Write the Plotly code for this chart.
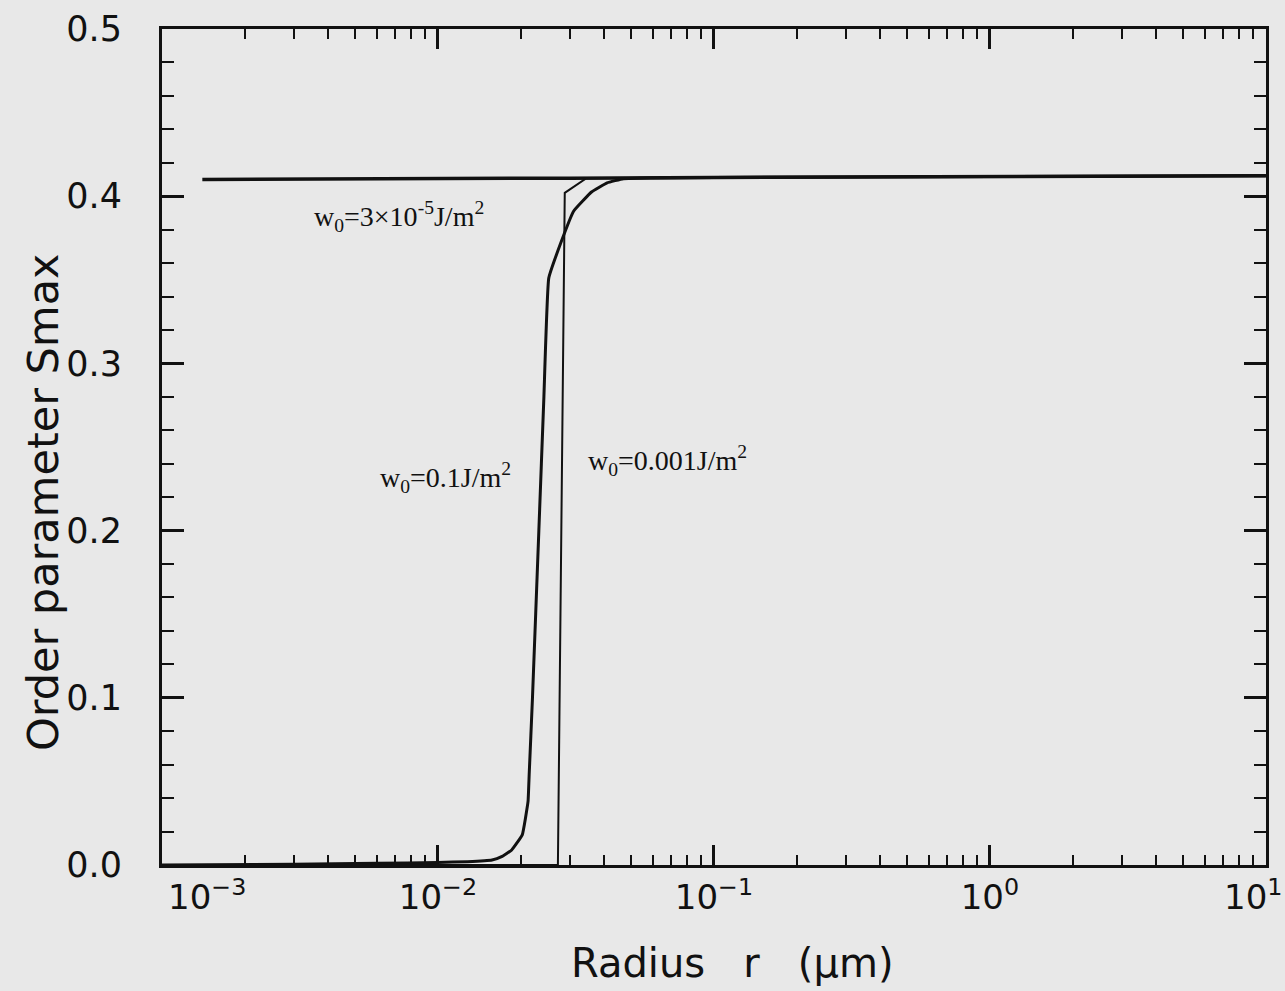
import plotly.graph_objects as go

# ---- data ----
r_w3e5 = [0.0014, 0.005, 0.01, 0.03, 0.1, 1.0, 10.0]
s_w3e5 = [0.4100, 0.4102, 0.4104, 0.4108, 0.4112, 0.4118, 0.4123]

r_w01 = [0.001, 0.003, 0.006, 0.010, 0.0128, 0.0157, 0.0170, 0.0185, 0.0202,
         0.0212, 0.0214, 0.0220, 0.0232, 0.0242, 0.0252, 0.0280, 0.0310,
         0.0360, 0.0410, 0.0470, 0.06, 0.1, 1.0, 10.0]
s_w01 = [0.0, 0.0005, 0.001, 0.0015, 0.002, 0.003, 0.005, 0.009, 0.018,
         0.038, 0.054, 0.10, 0.20, 0.28, 0.351, 0.373, 0.391,
         0.4025, 0.408, 0.4105, 0.4109, 0.4112, 0.4118, 0.4123]

r_w0001 = [0.001, 0.01, 0.025, 0.0272, 0.0288, 0.0345, 0.05, 0.1, 1.0, 10.0]
s_w0001 = [0.0, 0.0, 0.0, 0.0, 0.402, 0.4108, 0.4109, 0.4112, 0.4118, 0.4123]

x_major = [1e-3, 1e-2, 1e-1, 1e0, 1e1]
x_major_text = ["10<sup>−3</sup>", "10<sup>−2</sup>", "10<sup>−1</sup>",
                "10<sup>0</sup>", "10<sup>1</sup>"]
x_minor = [d * 10.0 ** e for e in (-3, -2, -1, 0) for d in range(2, 10)]

labels = [
    ("w<sub>0</sub>=3×10<sup>-5</sup>J/m<sup>2</sup>", -2.455, 0.388),
    ("w<sub>0</sub>=0.1J/m<sup>2</sup>", -2.216, 0.232),
    ("w<sub>0</sub>=0.001J/m<sup>2</sup>", -1.463, 0.242),
]

BG = "#e8e8e8"
INK = "#111111"
AX_FONT = "DejaVu Sans"
TICK_SIZE = 34

W, H = 1285, 991
ML, MR, MT, MB = 162, 19, 29, 126
NB = "\u00a0"

fig = go.Figure()
fig.add_trace(go.Scatter(x=r_w0001, y=s_w0001, mode="lines",
                         line=dict(color=INK, width=2), showlegend=False))
fig.add_trace(go.Scatter(x=r_w01, y=s_w01, mode="lines",
                         line=dict(color=INK, width=3, shape="spline", smoothing=0.3),
                         showlegend=False))
fig.add_trace(go.Scatter(x=r_w3e5, y=s_w3e5, mode="lines",
                         line=dict(color=INK, width=3.5), showlegend=False))

for txt, lx, ly in labels:
    fig.add_annotation(x=lx, y=ly, xref="x", yref="y", text=txt,
                       showarrow=False, xanchor="left", yanchor="middle",
                       font=dict(family="Liberation Serif", size=28, color=INK))

# the two end decade labels are placed as annotations so they stay inside the page
import math
for val, txt, anchor, shift in [(x_major[0], x_major_text[0], "left", 4),
                                (x_major[-1], x_major_text[-1], "right", 18)]:
    fig.add_annotation(x=math.log10(val), y=0, xref="x", yref="paper", text=txt,
                       showarrow=False, xanchor=anchor, yanchor="top",
                       xshift=shift, yshift=-6,
                       font=dict(family=AX_FONT, size=TICK_SIZE, color=INK))
tick_text_shown = [""] + x_major_text[1:-1] + [""]

# axis titles
fig.add_annotation(x=(732 - ML) / (W - ML - MR), y=-(963 - (H - MB)) / (H - MT - MB),
                   xref="paper", yref="paper",
                   text="Radius" + NB * 3 + "r" + NB * 3 + "(μm)", showarrow=False,
                   xanchor="center", yanchor="middle",
                   font=dict(family=AX_FONT, size=40, color=INK))
fig.add_annotation(x=-(ML - 43) / (W - ML - MR), y=(H - MB - 502) / (H - MT - MB),
                   xref="paper", yref="paper",
                   text="Order parameter Smax", showarrow=False, textangle=-90,
                   xanchor="center", yanchor="middle",
                   font=dict(family=AX_FONT, size=43, color=INK))

fig.update_xaxes(
    type="log", range=[-3, 1.0003],
    tickmode="array", tickvals=x_major, ticktext=tick_text_shown,
    ticks="inside", ticklen=20, tickwidth=2.5, tickcolor=INK,
    minor=dict(tickmode="array", tickvals=x_minor, ticks="inside",
               ticklen=10, tickwidth=2, tickcolor=INK, showgrid=False),
    showline=True, linewidth=3, linecolor=INK, mirror="allticks",
    showgrid=False, zeroline=False,
    tickfont=dict(family=AX_FONT, size=TICK_SIZE, color=INK),
    ticklabelstandoff=0, ticklabeloverflow="allow",
)
fig.update_yaxes(
    range=[0, 0.5], tickmode="linear", tick0=0, dtick=0.1, tickformat=".1f",
    ticks="inside", ticklen=22, tickwidth=2.5, tickcolor=INK,
    minor=dict(dtick=0.02, ticks="inside", ticklen=12, tickwidth=2,
               tickcolor=INK, showgrid=False),
    showline=True, linewidth=3, linecolor=INK, mirror="allticks",
    showgrid=False, zeroline=False,
    tickfont=dict(family=AX_FONT, size=35, color=INK),
    ticklabelstandoff=30,
)

fig.update_layout(
    width=W, height=H,
    margin=dict(l=ML, r=MR, t=MT, b=MB, autoexpand=False),
    paper_bgcolor=BG, plot_bgcolor=BG,
    showlegend=False,
)

fig.write_html("out.html", config={"displayModeBar": False},
               post_script="document.body.style.margin='0px';"
                           "document.body.style.background='" + BG + "';")
